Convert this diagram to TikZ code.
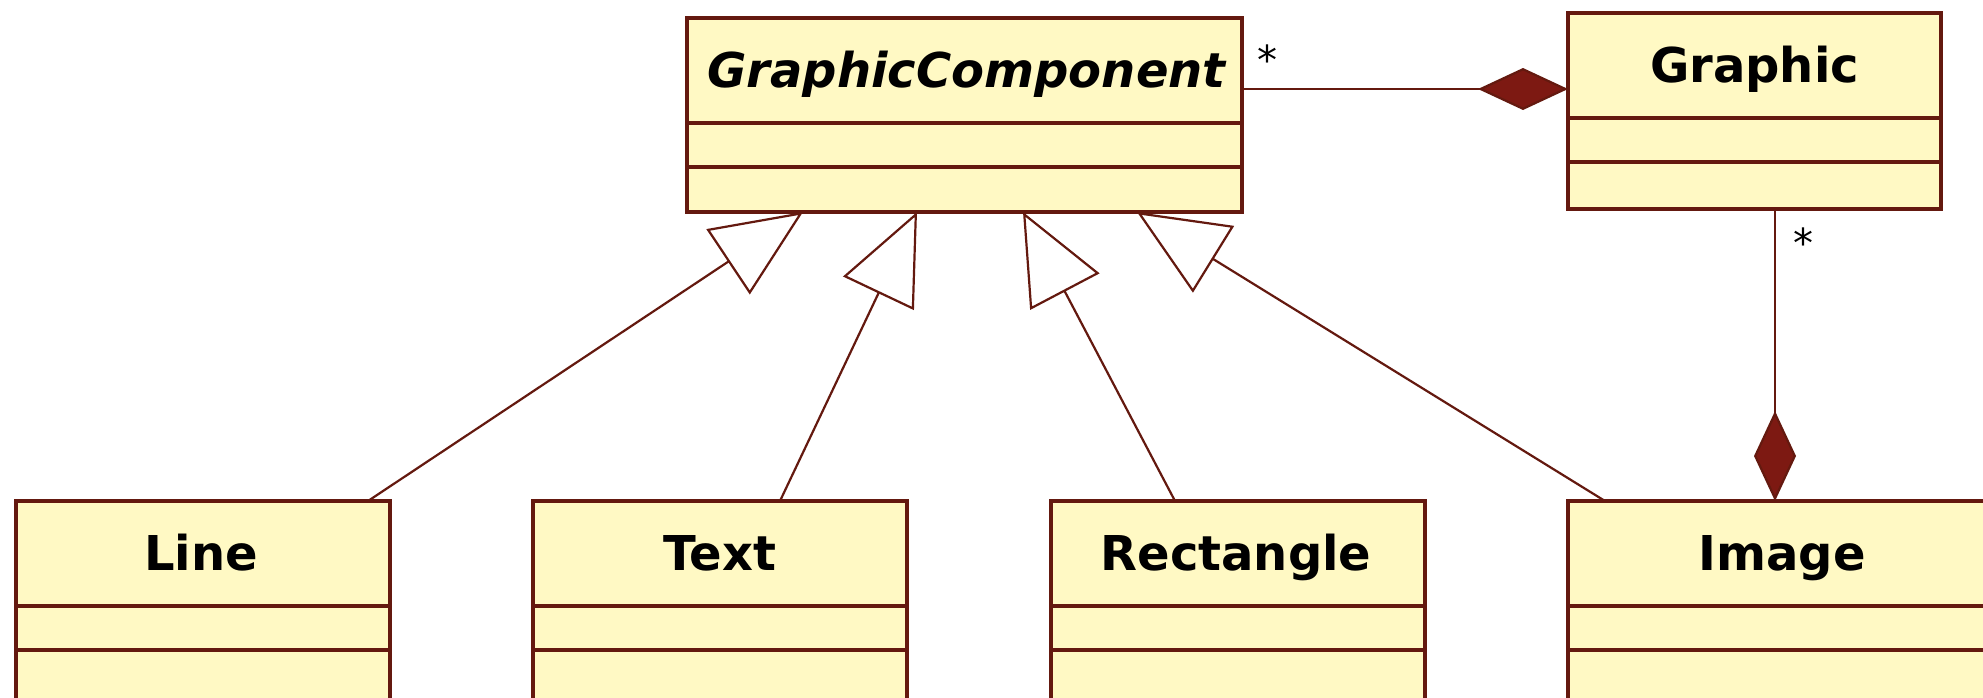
\documentclass[tikz,border=0pt]{standalone}
\usepackage{fontspec}
\setmainfont{DejaVu Sans}
\usetikzlibrary{arrows.meta,calc}
\definecolor{umlline}{RGB}{100,25,15}
\definecolor{umlfill}{RGB}{255,249,196}
\definecolor{umldia}{RGB}{125,25,18}
\tikzset{
 classbox/.style={draw=umlline, fill=umlfill, line width=1.6pt, anchor=north west, inner sep=0pt, outer sep=0pt},
 classname/.style={font=\fontsize{24}{28}\selectfont\bfseries, anchor=base, inner sep=0pt},
 divider/.style={draw=umlline, line width=1.6pt},
 gen/.style={draw=umlline, line width=1.1pt, -{Triangle[open, length=45pt, width=39pt, fill=white]}},
 comp/.style={draw=umlline, line width=1.1pt, -{Diamond[length=45pt, width=21pt, fill=umldia]}},
 mult/.style={font=\fontsize{20}{24}\selectfont, inner sep=0pt},
}
\begin{document}
\begin{tikzpicture}[x=0.5pt, y=-0.5pt]
\clip (0,0) rectangle (1983,697);
\fill[white] (0,0) rectangle (1983,697);

% class boxes
\node[classbox, minimum width=277.5pt, minimum height=97pt] (gc) at (687,18) {};
\node[classbox, minimum width=186.5pt, minimum height=98pt] (graphic) at (1568,13) {};
\node[classbox, minimum width=187pt, minimum height=125pt] (line) at (16,501) {};
\node[classbox, minimum width=187pt, minimum height=125pt] (text) at (533,501) {};
\node[classbox, minimum width=187pt, minimum height=125pt] (rect) at (1051,501) {};
\node[classbox, minimum width=214pt, minimum height=125pt] (image) at (1568,501) {};

% compartments
\foreach \b in {gc,graphic,line,text,rect,image}{
  \draw[divider] ($(\b.north west)+(0,105)$) -- ($(\b.north east)+(0,105)$);
  \draw[divider] ($(\b.north west)+(0,149)$) -- ($(\b.north east)+(0,149)$);
}

% names
\node[classname] (gcname) at ($(gc.north)+(2,69)$) {\itshape GraphicComponent};
\node[classname] (graphicname) at ($(graphic.north)+(0,69)$) {Graphic};
\node[classname] (linename) at ($(line.north)+(-2,69)$) {Line};
\node[classname] (textname) at ($(text.north)+(0,69)$) {Text};
\node[classname] (rectname) at ($(rect.north)+(-2,69)$) {Rectangle};
\node[classname] (imagename) at ($(image.north)+(0,69)$) {Image};

% connector end points
\coordinate (gcA) at ($(gc.south west)+(116,0)$);
\coordinate (gcB) at ($(gc.south west)+(230,0)$);
\coordinate (gcC) at ($(gc.south west)+(336,0)$);
\coordinate (gcD) at ($(gc.south west)+(450,0)$);
\coordinate (lineT) at ($(line.north west)+(352,0)$);
\coordinate (textT) at ($(text.north west)+(247,0)$);
\coordinate (rectT) at ($(rect.north west)+(124,0)$);
\coordinate (imageT) at ($(image.north west)+(37,0)$);
\coordinate (gcR) at ($(gc.north east)+(0,71)$);
\coordinate (graphicL) at ($(graphic.north west)+(0,76)$);
\coordinate (graphicB) at ($(graphic.south west)+(207,0)$);
\coordinate (imageC) at ($(image.north west)+(207,0)$);

% generalizations
\draw[gen] (lineT) -- (gcA);
\draw[gen] (textT) -- (gcB);
\draw[gen] (rectT) -- (gcC);
\draw[gen] (imageT) -- (gcD);

% compositions
\draw[comp] (gcR) -- (graphicL);
\draw[comp] (graphicB) -- (imageC);

% multiplicities
\node[mult] (m1) at ($(gc.north east)+(25,42)$) {*};
\node[mult] (m2) at ($(graphic.south west)+(235,34)$) {*};
\end{tikzpicture}
\end{document}
